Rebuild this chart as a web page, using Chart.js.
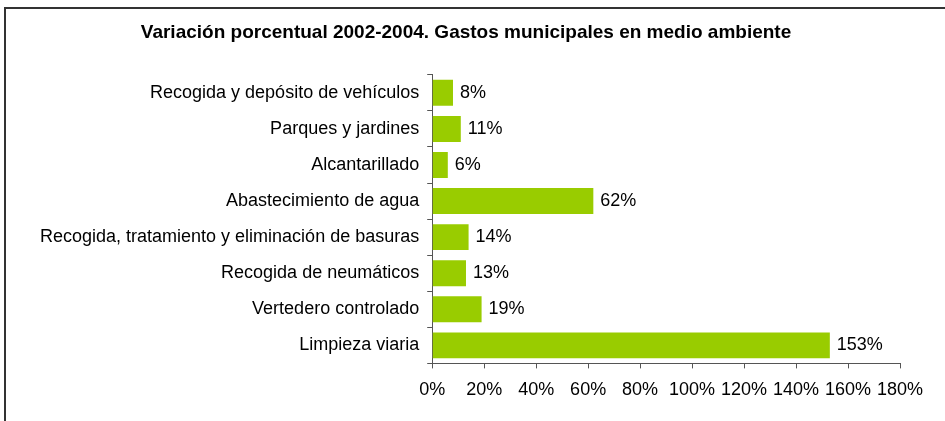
<!DOCTYPE html>
<html>
<head>
<meta charset="utf-8">
<script src="https://cdn.jsdelivr.net/npm/chart.js@4"></script>
<style>
  html, body { margin: 0; padding: 0; background: #fff; overflow: hidden; }
  #wrap { position: relative; width: 945px; height: 421px; }
  #frame { position: absolute; left: 4px; top: 7px; width: 1000px; height: 500px; border: 2px solid #333; }
  #myChart { position: absolute; left: 0; top: 0; }
</style>
</head>
<body>
<div id="wrap">
  <div id="frame"></div>
  <canvas id="myChart" width="945" height="421"></canvas>
</div>
<script>

const titleText = "Variación porcentual 2002-2004. Gastos municipales en medio ambiente";

const categories = [
  "Recogida y depósito de vehículos",
  "Parques y jardines",
  "Alcantarillado",
  "Abastecimiento de agua",
  "Recogida, tratamiento y eliminación de basuras",
  "Recogida de neumáticos",
  "Vertedero controlado",
  "Limpieza viaria"
];

const variacion = [8, 11, 6, 62, 14, 13, 19, 153];

const xTicks = [0, 20, 40, 60, 80, 100, 120, 140, 160, 180];

const fontFamily = '"Liberation Sans", Arial, sans-serif';


// etiquetas de valor al final de cada barra
const valueLabels = {
  id: 'valueLabels',
  afterDatasetsDraw(chart) {
    const ctx = chart.ctx;
    ctx.save();
    ctx.font = '18px ' + fontFamily;
    ctx.fillStyle = '#000';
    ctx.textBaseline = 'middle';
    chart.getDatasetMeta(0).data.forEach((bar, i) => {
      ctx.fillText(variacion[i] + '%', bar.x + 7, bar.y);
    });
    ctx.restore();
  }
};

const ctx = document.getElementById('myChart');

new Chart(ctx, {
  type: 'bar',
  data: {
    labels: categories,
    datasets: [{
      label: 'Variación',
      data: variacion,
      backgroundColor: '#99CC00',
      borderWidth: 0,
      barPercentage: 0.72,
      categoryPercentage: 1
    }]
  },
  options: {
    indexAxis: 'y',
    responsive: false,
    animation: false,
    layout: { padding: { left: 32, right: 45, top: 0, bottom: 9 } },
    plugins: {
      legend: { display: false },
      tooltip: { enabled: false },
      title: {
        display: true,
        text: titleText,
        color: '#000',
        font: { family: fontFamily, size: 19, weight: 'bold' },
        padding: { top: 21, bottom: 31 }
      }
    },
    scales: {
      x: {
        min: 0,
        max: 180,
        afterBuildTicks: axis => { axis.ticks = xTicks.map(v => ({ value: v })); },
        grid: { drawOnChartArea: false, color: '#555', tickLength: 5 },
        border: { color: '#555' },
        ticks: {
          color: '#000',
          padding: 11,
          maxRotation: 0,
          font: { family: fontFamily, size: 18 },
          callback: v => v + '%'
        }
      },
      y: {
        grid: { drawOnChartArea: false, color: '#555', tickLength: 5 },
        border: { color: '#555' },
        ticks: {
          color: '#000',
          padding: 8,
          font: { family: fontFamily, size: 18 }
        }
      }
    }
  },
  plugins: [valueLabels]
});

</script>
</body>
</html>
